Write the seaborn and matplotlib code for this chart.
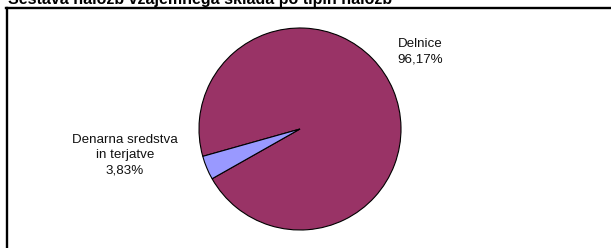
import matplotlib
matplotlib.use("Agg")
import matplotlib.pyplot as plt
import seaborn as sns
from matplotlib.lines import Line2D

categories = ["Delnice", "Denarna sredstva\nin terjatve"]
shares = [96.17, 3.83]
colors = ["#993366", "#9999FF"]
title = "Sestava naložb vzajemnega sklada po tipih naložb"

sns.set_theme(style="white")
plt.rcParams['font.family'] = ['Liberation Sans', 'DejaVu Sans']

W, H = 611, 248
fig = plt.figure(figsize=(W / 100, H / 100), dpi=100)
fig.patch.set_facecolor("white")
ax = fig.add_axes([0, 0, 1, 1])

cx, cy, r = 300, H - 129, 101
wedges, _ = ax.pie(shares, colors=colors, startangle=209.5, counterclock=True,
                   center=(cx, cy), radius=r, frame=True,
                   wedgeprops=dict(edgecolor="black", linewidth=0.8))
ax.set_xlim(0, W)
ax.set_ylim(0, H)
ax.set_aspect("equal")
ax.axis("off")

def fmt(v):
    return f"{v:.2f}".replace(".", ",") + "%"

label_pos = [(420, H - 52), (125, H - 155)]
for cat, v, (x, y) in zip(categories, shares, label_pos):
    ax.text(x, y, f"{cat}\n{fmt(v)}", ha="center", va="center",
            fontsize=9.6, color="#111111", linespacing=1.38)

# title (partly cut off at top, as in the reference)
fig.text(8 / W, 1 - 4.3 / H, title, ha="left", va="baseline",
         fontsize=11.5, fontweight="bold", color="black")

# frame lines
fig.add_artist(Line2D([6 / W, 1.0], [1 - 7.5 / H, 1 - 7.5 / H],
                      color="black", linewidth=1.7, transform=fig.transFigure,
                      solid_capstyle="projecting"))
fig.add_artist(Line2D([6.5 / W, 6.5 / W], [0, 1 - 7.5 / H],
                      color="black", linewidth=1.7, transform=fig.transFigure,
                      solid_capstyle="projecting"))

fig.savefig("out.png", dpi=100, facecolor="white")
